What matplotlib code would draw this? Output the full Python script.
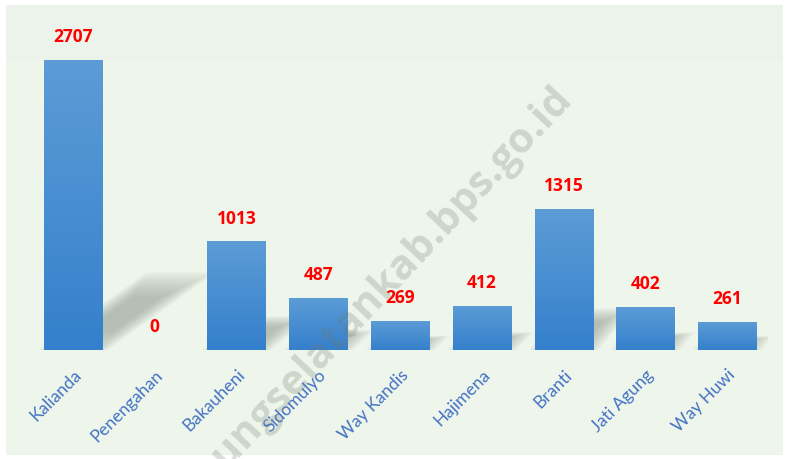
import numpy as np
import matplotlib
matplotlib.use("Agg")
import matplotlib.pyplot as plt
from matplotlib.patches import Rectangle, Polygon
from matplotlib.colors import LinearSegmentedColormap

categories = ["Kalianda", "Penengahan", "Bakauheni", "Sidomulyo", "Way Kandis",
              "Hajimena", "Branti", "Jati Agung", "Way Huwi"]
values = [2707, 0, 1013, 487, 269, 412, 1315, 402, 261]

W, H = 785, 459
fig = plt.figure(figsize=(W / 100, H / 100), dpi=100)
fig.patch.set_facecolor("white")

# background panel
fig.patches.append(Rectangle((6 / W, 1 - 455 / H), 777 / W, 450 / H,
                             transform=fig.transFigure, facecolor="#EEF6EC",
                             edgecolor="none", zorder=-2))
fig.patches.append(Rectangle((6 / W, 1 - 60 / H), 777 / W, 55 / H,
                             transform=fig.transFigure, facecolor="#ECF3EA",
                             edgecolor="none", zorder=-1))

ax = fig.add_axes([32 / W, 1 - 350 / H, 736 / W, (350 - 28.6) / H])
ax.set_facecolor("none")
ax.set_zorder(1)
x = np.arange(len(categories))
bw = 0.71

# soft shadows
for i, (xi, v) in enumerate(zip(x, values)):
    if v <= 0:
        continue
    dy = 0.224 * v + 60
    dx = 0.00042 * v * (1 - 0.07 * i) + 0.08
    pts = np.array([[xi - bw / 2, 0], [xi + bw / 2, 0],
                    [xi + bw / 2 + dx, dy], [xi - bw / 2 + dx, dy]])
    c = pts.mean(axis=0)
    for t in np.linspace(0, 1, 14):
        s = 1.2 - 0.7 * t
        p = c + (pts - c) * s
        ax.add_patch(Polygon(p, closed=True, facecolor="#7E8A7E",
                             edgecolor="none", alpha=0.045, zorder=1))

bars = ax.bar(x, values, width=bw, color="#4A8ED2", edgecolor="#8DB8E4",
              linewidth=0.6, zorder=3)

cmap = LinearSegmentedColormap.from_list("g", ["#3580CC", "#5C9CD6"])
grad = np.linspace(0, 1, 100).reshape(-1, 1)
for b in bars:
    h = b.get_height()
    if h <= 0:
        continue
    x0 = b.get_x()
    im = ax.imshow(grad, extent=[x0, x0 + b.get_width(), 0, h], origin="lower",
                   cmap=cmap, aspect="auto", zorder=3.5, interpolation="bilinear")
    im.set_clip_path(b)

for xi, v in zip(x, values):
    ax.annotate(str(v), (xi, v), xytext=(0, 10), textcoords="offset points",
                ha="center", va="bottom", color="#FF0000", fontsize=12.5,
                fontweight="bold", family="Open Sans", zorder=5)

ax.set_xlim(-0.5, len(categories) - 0.5)
ax.set_ylim(0, 3000)
ax.set_xticks(x)
ax.set_xticklabels(categories, rotation=45, ha="right", rotation_mode="anchor",
                   color="#4472C4", fontsize=12.5, family="Lato")
ax.tick_params(axis="x", length=0, pad=12)
ax.set_yticks([])
for s in ax.spines.values():
    s.set_visible(False)

# watermark
fig.text(356 / W, 1 - 315 / H, "lampungselatankab.bps.go.id", rotation=46.8,
         ha="center", va="center", fontsize=30, fontweight="bold",
         family="Open Sans", color="#6E786E", alpha=0.25, zorder=10)

fig.savefig("out.png", dpi=100, facecolor="white")
